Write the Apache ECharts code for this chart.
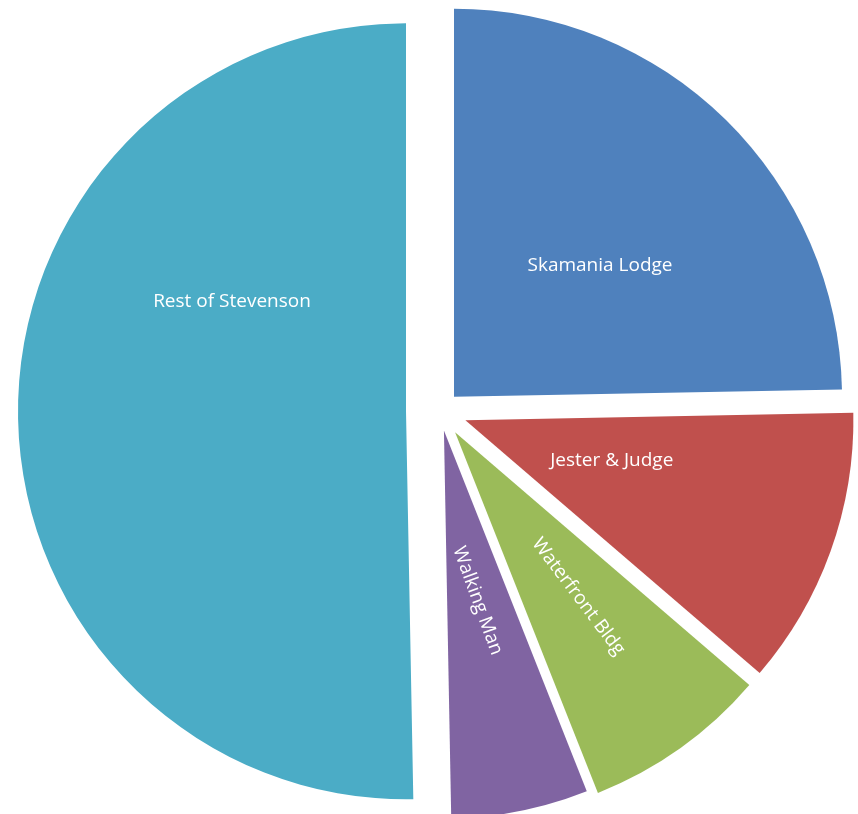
<!DOCTYPE html>
<html><head><meta charset="utf-8">
<script src="https://cdn.jsdelivr.net/npm/echarts@6/dist/echarts.min.js"></script>
<style>html,body{margin:0;padding:0;background:#fff}#c{width:858px;height:814px}</style>
</head><body><div id="c"></div>
<script>
const categories = ['Skamania Lodge', 'Jester & Judge', 'Waterfront Bldg', 'Walking Man', 'Rest of Stevenson'];
const values = [24.7, 11.6, 7.7, 5.7, 50.3];
const colors = ['#4F81BD', '#C0504D', '#9BBB59', '#8064A2', '#4BACC6'];
const explode = [20, 27, 26, 20, 34];
const labelRotate = [0, 0, -53, -70, 0];
const labelShift = [[8, 9], [-39, -26], [9, 4], [-5, -23], [23, -112]];

function localShift(k) {
  // dx/dy are applied in the label's rotated frame; convert screen shift to it
  const t = -labelRotate[k] * Math.PI / 180;
  const x = labelShift[k][0], y = labelShift[k][1];
  return {dx: x * Math.cos(t) + y * Math.sin(t), dy: -x * Math.sin(t) + y * Math.cos(t)};
}

const chart = echarts.init(document.getElementById('c'), null, {renderer: 'canvas'});
const series = categories.map((name, k) => ({
  type: 'pie', name: name, radius: 388, center: [440, 411], startAngle: 90, clockwise: true,
  selectedMode: 'multiple', selectedOffset: explode[k], avoidLabelOverlap: false,
  silent: true, animation: false,
  labelLine: {show: false},
  emphasis: {disabled: true},
  labelLayout: function (p) {
    return p.dataIndex === k ? localShift(k) : {};
  },
  data: categories.map((c, i) => ({
    name: c, value: values[i], selected: i === k,
    itemStyle: {color: i === k ? colors[i] : 'rgba(0,0,0,0)', borderWidth: 0},
    label: {show: i === k, position: 'inside', rotate: labelRotate[i], color: '#ffffff',
      fontFamily: 'Open Sans', fontSize: 19, formatter: '{b}'}
  }))
}));
chart.setOption({backgroundColor: '#ffffff', series: series});
</script></body></html>
